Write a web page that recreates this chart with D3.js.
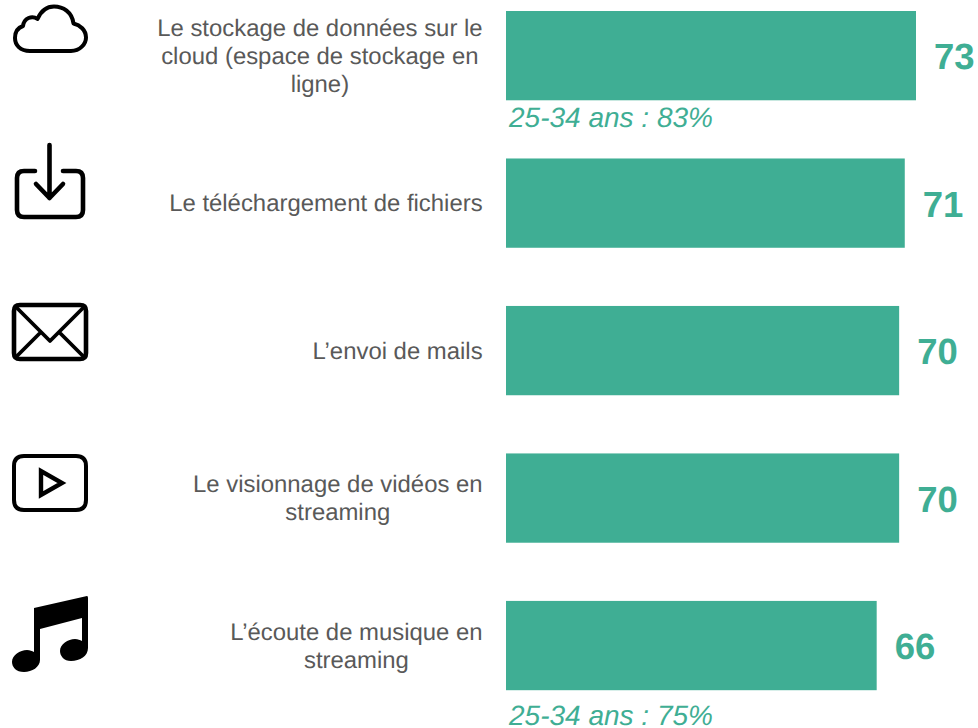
<!DOCTYPE html>
<html><head><meta charset="utf-8">
<script src="https://cdn.jsdelivr.net/npm/d3@7"></script>
<style>html,body{margin:0;padding:0;background:#fff}svg{display:block;font-family:"Liberation Sans",Arial,sans-serif;text-rendering:geometricPrecision}</style>
</head><body><svg id="c" width="978" height="728"></svg>
<script>
const categories=[
 ["Le stockage de données sur le","cloud (espace de stockage en","ligne)"],
 ["Le téléchargement de fichiers"],
 ["L’envoi de mails"],
 ["Le visionnage de vidéos en","streaming"],
 ["L’écoute de musique en","streaming"]];
const values=[73,71,70,70,66];
const notes=["25-34 ans : 83%",null,null,null,"25-34 ans : 75%"];
const green="#3fae94",grey="#595959";

const svg=d3.select("#c");
const idx=d3.range(values.length);
const x=d3.scaleLinear().domain([0,73]).range([506,916]);
const y=d3.scaleBand().domain(idx).range([11,690.2]).paddingInner(0.3946);

svg.selectAll("rect.bar").data(idx).join("rect").attr("class","bar")
 .attr("x",x(0)).attr("y",i=>y(i)).attr("width",i=>x(values[i])-x(0)).attr("height",y.bandwidth()).attr("fill",green);

svg.selectAll("text.val").data(idx).join("text").attr("class","val")
 .attr("x",i=>x(values[i])+18).attr("y",i=>y(i)+y.bandwidth()/2+13.5)
 .attr("font-size",36.5).attr("font-weight","bold").attr("fill",green).text(i=>values[i]);

svg.selectAll("text.note").data(idx.filter(i=>notes[i])).join("text").attr("class","note")
 .attr("x",509).attr("y",i=>y(i)+y.bandwidth()+(i===0?26.5:34.5))
 .attr("font-size",28).attr("font-style","italic").attr("fill",green).text(i=>notes[i]);

const labelRight=483,lh=28;
idx.forEach(i=>{
 const lines=categories[i];
 const g=svg.append("g").attr("class","cat");
 const t=g.selectAll("text").data(lines).join("text")
  .attr("font-size",23.9).attr("fill",grey).attr("text-anchor","middle")
  .attr("y",(d,k)=>y(i)+y.bandwidth()/2+8.2+(k-(lines.length-1)/2)*lh).text(d=>d);
 const w=d3.max(t.nodes(),n=>n.getComputedTextLength());
 t.attr("x",labelRight-w/2-0.4);
});

const ic=svg.append("g").attr("class","icons");
const stroke=(g,w)=>g.attr("fill","none").attr("stroke","#000").attr("stroke-width",w).attr("stroke-linecap","round").attr("stroke-linejoin","round");
// cloud
stroke(ic.append("path"),4).attr("d","M30 51 H71 C80 51 86 44 86 37.5 C86 30 80 25 73.5 23.5 C72 12 63 6.5 54 6.5 C46 6.5 41 11 37.5 19 C32 15 24 18 23 26 C17 28 15 32 15 38 C15 45 20 51 30 51 Z");
// download
stroke(ic.append("path"),4.6).attr("d","M35 171 H24 Q17 171 17 178 V210 Q17 217 24 217 H76 Q83 217 83 210 V178 Q83 171 76 171 H63");
stroke(ic.append("path"),4.6).attr("d","M49.5 145 V198 M36 184 L49.5 198 L63 184");
// mail
stroke(ic.append("path"),4.6).attr("d","M20 305 H80 Q86 305 86 311 V353 Q86 359 80 359 H20 Q14 359 14 353 V311 Q14 305 20 305 Z");
stroke(ic.append("path"),3.8).attr("d","M16 307 L50 341 L84 307 M16 357 L40 333 M84 357 L60 333");
// play
stroke(ic.append("path"),4).attr("d","M24 456 H76 Q86 456 86 466 V500 Q86 510 76 510 H24 Q14 510 14 500 V466 Q14 456 24 456 Z");
stroke(ic.append("path"),4.4).attr("stroke-linecap","butt").attr("stroke-linejoin","miter").attr("d","M41 471 V495 L62 483 Z");
// music
ic.append("path").attr("fill","#000").attr("d","M34 608 L87 596 Q88 596 88 598 V648 C88 656 80 661 71 661 C64 661 60 656 60 651 C60 644 68 639 75 639 C78 639 80 640 82 641 V618 L40 629 V660 C40 667 32 672 24 672 C16 672 12 667 12 662 C12 655 20 650 27 650 C30 650 32 651 34 652 Z");
</script></body></html>
